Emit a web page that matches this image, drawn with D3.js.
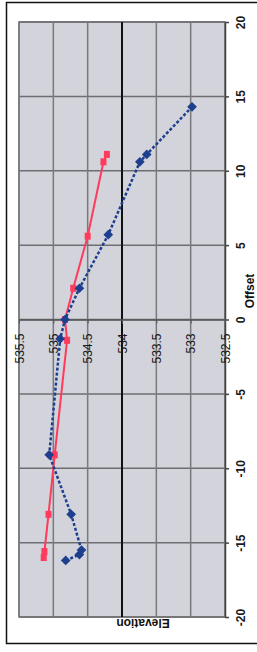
<!DOCTYPE html>
<html>
<head>
<meta charset="utf-8">
<script src="https://cdn.jsdelivr.net/npm/d3@7"></script>
<style>
  body { margin: 0; background: #fff; }
  svg { display: block; font-family: "Liberation Sans", Arial, sans-serif; }
</style>
</head>
<body>
<svg id="chart" width="257" height="652"></svg>
<script>
// chart is printed sideways: offset runs bottom -> top, elevation right -> left
const BLUE_OFFSET = [-16.2, -15.8, -15.5, -13.1, -9.1, -1.3, 0, 2.1, 5.7, 10.6, 11.1, 14.3];
const BLUE_ELEV = [534.82, 534.62, 534.59, 534.74, 535.06, 534.9, 534.83, 534.62, 534.2,533.74, 533.64, 532.98];

const RED_OFFSET = [-16.0, -15.6, -13.1, -9.1, -1.4, 0, 2.1, 5.6, 10.6, 11.1];
const RED_ELEV = [535.14, 535.13, 535.07, 534.98, 534.8, 534.83, 534.71, 534.5, 534.27, 534.22];

const OFFSET_TICKS = [-20, -15, -10, -5, 0, 5, 10, 15, 20];
const ELEV_TICKS = [535.5, 535, 534.5, 534, 533.5, 533, 532.5];

const PLOT = { left: 19, right: 225, top: 22, bottom: 617 };

const svg = d3.select("#chart");

const x = d3.scaleLinear().domain([535.5, 532.5]).range([PLOT.left, PLOT.right]);
const y = d3.scaleLinear().domain([-20, 20]).range([PLOT.bottom, PLOT.top]);

// outer chart border
svg.append("path")
  .attr("d", `M262,2.5 H6.5 V643.5 H262`)
  .attr("fill", "none")
  .attr("stroke", "#111")
  .attr("stroke-width", 1.5);

// plot area
svg.append("rect")
  .attr("x", PLOT.left)
  .attr("y", PLOT.top)
  .attr("width", PLOT.right - PLOT.left)
  .attr("height", PLOT.bottom - PLOT.top)
  .attr("fill", "#d3d3db")
  .attr("stroke", "#777")
  .attr("stroke-width", 1.5);

// gridlines
svg.append("g")
  .selectAll("line")
  .data(OFFSET_TICKS)
  .join("line")
  .attr("x1", PLOT.left)
  .attr("x2", PLOT.right)
  .attr("y1", (d) => y(d))
  .attr("y2", (d) => y(d))
  .attr("stroke", "#6e6e72")
  .attr("stroke-width", 1.5);

svg.append("g")
  .selectAll("line")
  .data(ELEV_TICKS)
  .join("line")
  .attr("x1", (d) => x(d))
  .attr("x2", (d) => x(d))
  .attr("y1", PLOT.top)
  .attr("y2", PLOT.bottom)
  .attr("stroke", (d) => (d == 534 ? "#111" : "#7a7a7e"))
  .attr("stroke-width", (d) => (d == 534 ? 2 : 1.5));

// offset axis on the right
const offsetAxis = svg.append("g")
  .attr("transform", "translate(" + PLOT.right + ",0)")
  .call(d3.axisRight(y).tickValues(OFFSET_TICKS).tickSize(4).tickSizeOuter(0));
offsetAxis.select(".domain").attr("stroke", "#444").attr("stroke-width", 1.5);
offsetAxis.selectAll(".tick line").attr("stroke", "#444").attr("stroke-width", 1.5);
offsetAxis.selectAll("text")
  .attr("x", 0)
  .attr("dy", null)
  .attr("transform", "translate(20,0) rotate(-90)")
  .attr("text-anchor", "middle")
  .attr("fill", "#1a1a1a")
  .style("font-size", "12px")
  .style("font-weight", "bold")
  .text((d) => d);

// elevation axis crossing at offset 0
const elevAxis = svg.append("g")
  .attr("transform", "translate(0," + y(0) + ")")
  .call(d3.axisBottom(x).tickValues(ELEV_TICKS).tickSize(4).tickSizeOuter(0));
elevAxis.select(".domain").attr("stroke", "#555").attr("stroke-width", 1.5);
elevAxis.selectAll(".tick line").attr("stroke", "#555");
elevAxis.selectAll("text")
  .attr("y", 0)
  .attr("x", -14)
  .attr("dy", "0.35em")
  .attr("transform", "rotate(-90)")
  .attr("text-anchor", "end")
  .attr("fill", "#1a1a1a")
  .style("font-size", "12px")
  .text((d) => d);

// axis titles
svg.append("text")
  .attr("transform", "translate(254,291) rotate(-90)")
  .attr("text-anchor", "middle")
  .style("font-size", "12px")
  .style("font-weight", "bold")
  .attr("fill", "#111")
  .text("Offset");

svg.append("text")
  .attr("transform", "translate(143,619) rotate(180)")
  .attr("text-anchor", "middle")
  .style("font-size", "12px")
  .style("font-weight", "bold")
  .attr("fill", "#111")
  .text("Elevation");

// series
const blue = d3.zip(BLUE_ELEV, BLUE_OFFSET);
const red = d3.zip(RED_ELEV, RED_OFFSET);

const line = d3.line()
  .x((d) => x(d[0]))
  .y((d) => y(d[1]));

svg.append("path")
  .datum(red)
  .attr("fill", "none")
  .attr("stroke", "#ff3a5c")
  .attr("stroke-width", 2)
  .attr("d", line);

svg.append("g")
  .selectAll("rect")
  .data(red)
  .join("rect")
  .attr("x", (d) => x(d[0]) - 3)
  .attr("y", (d) => y(d[1]) - 3.5)
  .attr("width", 6)
  .attr("height", 7)
  .attr("fill", "#ff3a5c");

svg.append("path")
  .datum(blue)
  .attr("fill", "none")
  .attr("stroke", "#1d3f8e")
  .attr("stroke-width", 2.5)
  .attr("stroke-dasharray", "3,2")
  .attr("d", line);

svg.append("g")
  .selectAll("path")
  .data(blue)
  .join("path")
  .attr("d", d3.symbol(d3.symbolDiamond2, 60))
  .attr("transform", (d) => "translate(" + x(d[0]) + "," + y(d[1]) + ")")
  .attr("fill", "#1d3f8e");
</script>
</body>
</html>
